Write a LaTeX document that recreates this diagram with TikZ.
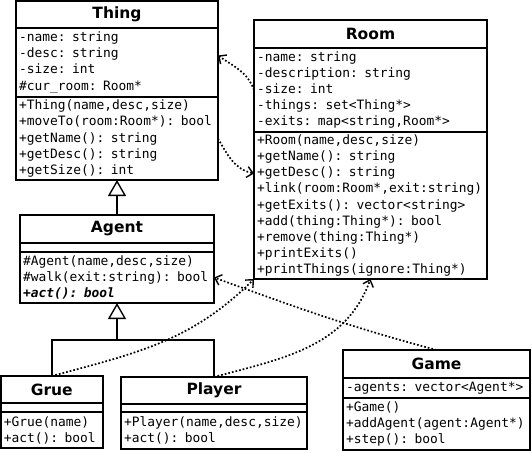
\documentclass[tikz,border=0pt]{standalone}
\usepackage{fontspec}
\setsansfont{DejaVu Sans}
\setmonofont{DejaVu Sans Mono}[BoldFont={DejaVu Sans Mono Bold},ItalicFont={DejaVu Sans Mono Oblique},BoldItalicFont={DejaVu Sans Mono Bold Oblique}]
\usetikzlibrary{positioning}
\usetikzlibrary{arrows.meta}

\newcommand{\umltitlefont}{\fontsize{15.5}{18}\selectfont\sffamily\bfseries}
\newcommand{\umltextfont}{\fontsize{12.9}{16.1}\selectfont\ttfamily}

\tikzset{
  classtitle/.style={draw, line width=1.6pt, outer sep=0pt, inner sep=0pt, font=\umltitlefont, anchor=north west},
  classpart/.style={draw, line width=1.6pt, outer sep=0pt, inner xsep=3pt, inner ysep=0pt, align=left, font=\umltextfont},
  uses/.style={dotted, line width=1.7pt, -{Straight Barb[length=6pt,width=11pt,line width=1.4pt]}},
  inherit/.style={line width=1.6pt, -{Triangle[open,length=16pt,width=18pt,line width=1.4pt]}}
}

\begin{document}
\begin{tikzpicture}[x=1pt,y=1pt]
\useasboundingbox (0,0) rectangle (532,-452);

% Thing
\node[classtitle, minimum width=202pt, minimum height=27pt] (thing) at (16,-1) {Thing};
\node[classpart, below=0pt of thing, text width=196pt, minimum height=69pt] (thing-attr)
  {-name: string\\-desc: string\\-size: int\\\#cur\_room: Room*};
\node[classpart, below=0pt of thing-attr, text width=196pt, minimum height=83pt] (thing-ops)
  {+Thing(name,desc,size)\\+moveTo(room:Room*): bool\\+getName(): string\\+getDesc(): string\\+getSize(): int};

% Room
\node[classtitle, minimum width=233pt, minimum height=28pt] (room) at (254,-20) {Room};
\node[classpart, below=0pt of room, text width=227pt, minimum height=84pt] (room-attr)
  {-name: string\\-description: string\\-size: int\\-things: set<Thing*>\\-exits: map<string,Room*>};
\node[classpart, below=0pt of room-attr, text width=227pt, minimum height=147pt] (room-ops)
  {+Room(name,desc,size)\\+getName(): string\\+getDesc(): string\\+link(room:Room*,exit:string)\\+getExits(): vector<string>\\+add(thing:Thing*): bool\\+remove(thing:Thing*)\\+printExits()\\+printThings(ignore:Thing*)};

% Agent
\node[classtitle, minimum width=194pt, minimum height=28pt] (agent) at (20,-215) {Agent};
\node[classpart, below=0pt of agent, text width=188pt, minimum height=9pt] (agent-attr) {};
\node[classpart, below=0pt of agent-attr, text width=188pt, minimum height=51pt] (agent-ops)
  {\#Agent(name,desc,size)\\\#walk(exit:string): bool\\{\bfseries\itshape +act(): bool}};

% Grue
\node[classtitle, minimum width=102pt, minimum height=27pt] (grue) at (0.8,-376) {Grue};
\node[classpart, below=0pt of grue, text width=96pt, minimum height=9pt] (grue-attr) {};
\node[classpart, below=0pt of grue-attr, text width=96pt, minimum height=36pt] (grue-ops)
  {+Grue(name)\\+act(): bool};

% Player
\node[classtitle, minimum width=186pt, minimum height=27pt] (player) at (121,-377) {Player};
\node[classpart, below=0pt of player, text width=180pt, minimum height=8pt] (player-attr) {};
\node[classpart, below=0pt of player-attr, text width=180pt, minimum height=37pt] (player-ops)
  {+Player(name,desc,size)\\+act(): bool};

% Game
\node[classtitle, minimum width=187pt, minimum height=28pt] (game) at (343,-350) {Game};
\node[classpart, below=0pt of game, text width=181pt, minimum height=20pt] (game-attr)
  {-agents: vector<Agent*>};
\node[classpart, below=0pt of game-attr, text width=181pt, minimum height=52pt] (game-ops)
  {+Game()\\+addAgent(agent:Agent*)\\+step(): bool};

% Inheritance
\draw[inherit] (agent.north) -- (thing-ops.south);
\coordinate (fork) at ([yshift=-37pt]agent-ops.south);
\draw[line width=1.6pt] (grue.north) |- (fork) -| (player.north);
\draw[inherit] (fork) -- (agent-ops.south);

% Dependencies
\draw[uses] (room-attr.west) to[out=110, in=-35] ([yshift=7pt]thing-attr.east);
\draw[uses] (thing-ops.east) to[out=-60, in=168] ([yshift=32pt]room-ops.west);
\draw[uses] (grue.north) to[out=15, in=-135] (room-ops.south west);
\draw[uses] (player.north) to[out=15, in=-110] (room-ops.south);
\draw[uses] (game.north) to[out=165, in=-20] (agent-ops.east);

\end{tikzpicture}
\end{document}
